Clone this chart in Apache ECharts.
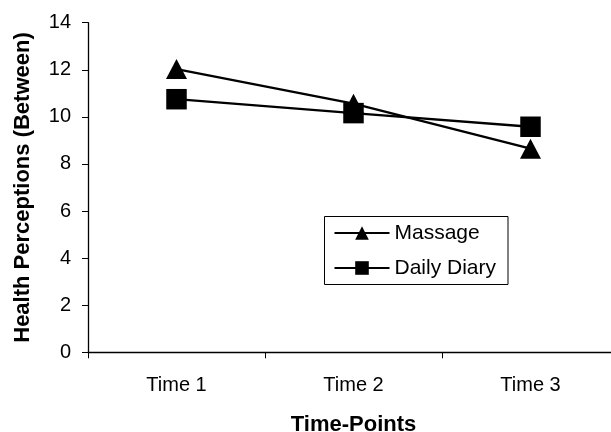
<!DOCTYPE html>
<html>
<head>
<meta charset="utf-8">
<script src="https://cdn.jsdelivr.net/npm/echarts@6/dist/echarts.min.js"></script>
<style>
html,body{margin:0;padding:0;background:#fff;}
#c{width:611px;height:432px;}
</style>
</head>
<body>
<div id="c"></div>
<script>
const categories = ['Time 1', 'Time 2', 'Time 3'];
const massage = [12.03, 10.56, 8.65];
const dailyDiary = [10.75, 10.16, 9.58];
const yTicks = {min: 0, max: 14, interval: 2};
const xTitle = 'Time-Points';
const yTitle = 'Health Perceptions (Between)';

const FONT = 'Liberation Sans, Arial, sans-serif';
const chart = echarts.init(document.getElementById('c'), null, {renderer: 'canvas'});
chart.setOption({
  animation: false,
  backgroundColor: '#fff',
  textStyle: {fontFamily: FONT, color: '#000'},
  grid: {left: 88, top: 22.7, width: 531, height: 329.6, containLabel: false, outerBoundsMode: 'none'},
  xAxis: {
    type: 'category',
    data: categories,
    boundaryGap: true,
    name: xTitle,
    nameLocation: 'middle',
    nameGap: 62,
    nameTextStyle: {fontFamily: FONT, fontSize: 22, fontWeight: 'bold', color: '#000'},
    axisLine: {lineStyle: {color: '#000', width: 1.3}},
    axisTick: {show: true, inside: false, length: 6, lineStyle: {color: '#000', width: 1}, alignWithLabel: false},
    axisLabel: {fontFamily: FONT, fontSize: 20, color: '#000', margin: 23},
    splitLine: {show: false}
  },
  yAxis: {
    type: 'value',
    min: yTicks.min,
    max: yTicks.max,
    interval: yTicks.interval,
    name: yTitle,
    nameLocation: 'middle',
    nameGap: 54,
    nameRotate: 90,
    nameTextStyle: {fontFamily: FONT, fontSize: 22, fontWeight: 'bold', color: '#000'},
    axisLine: {show: true, lineStyle: {color: '#000', width: 1.3}},
    axisTick: {show: true, inside: false, length: 6, lineStyle: {color: '#000', width: 1}},
    axisLabel: {fontFamily: FONT, fontSize: 20, color: '#000', margin: 17},
    splitLine: {show: false}
  },
  legend: {
    orient: 'vertical',
    left: 324.5,
    top: 216.5,
    padding: [6, 12, 6, 9],
    itemWidth: 55,
    itemHeight: 17,
    itemGap: 14,
    borderColor: '#000',
    borderWidth: 1,
    backgroundColor: '#fff',
    lineStyle: {width: 2},
    textStyle: {fontFamily: FONT, fontSize: 21, color: '#000'},
    data: ['Massage', 'Daily Diary']
  },
  series: [
    {
      name: 'Massage',
      type: 'line',
      data: massage,
      symbol: 'triangle',
      symbolSize: [21, 20],
      lineStyle: {color: '#000', width: 2.3},
      itemStyle: {color: '#000'},
      z: 2
    },
    {
      name: 'Daily Diary',
      type: 'line',
      data: dailyDiary,
      symbol: 'rect',
      symbolSize: [20.5, 20.5],
      lineStyle: {color: '#000', width: 2.3},
      itemStyle: {color: '#000'},
      z: 3
    }
  ]
});
</script>
</body>
</html>
